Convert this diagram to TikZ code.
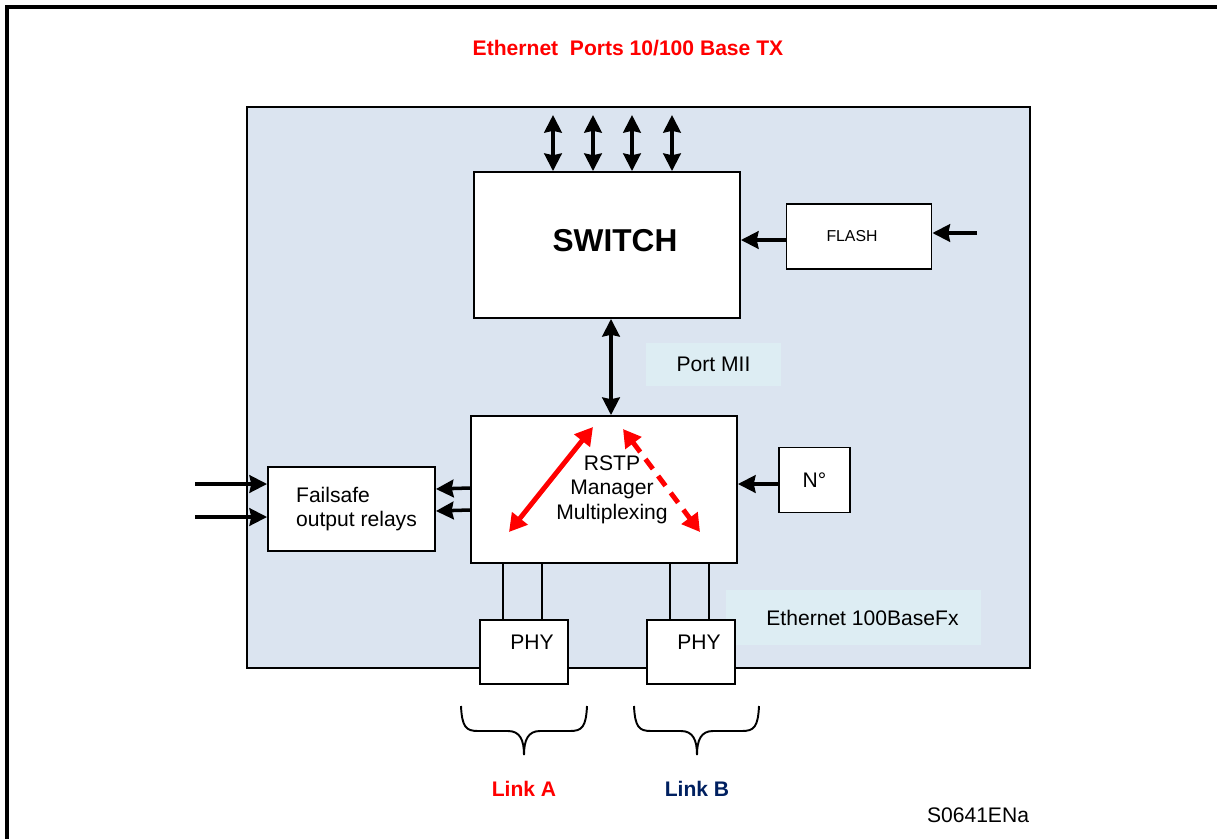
\documentclass[tikz,border=0pt]{standalone}
\usepackage{fontspec}
\setmainfont{Liberation Sans}
\usetikzlibrary{arrows.meta}
\definecolor{panelblue}{RGB}{219,228,240}
\definecolor{labelcyan}{RGB}{221,237,243}
\definecolor{linkred}{RGB}{255,0,0}
\definecolor{linknavy}{RGB}{0,32,96}
\tikzset{
  box/.style={draw, line width=1.1pt, fill=white, inner sep=0pt},
  tag/.style={fill=labelcyan, inner sep=0pt},
  arr/.style={line width=2pt, -{Stealth[length=10pt,width=10pt,inset=1pt]}},
  darr/.style={line width=2pt, {Stealth[length=10pt,width=10pt,inset=1pt]}-{Stealth[length=10pt,width=10pt,inset=1pt]}},
  rarr/.style={linkred, line width=2.8pt, {Triangle[length=10pt,width=11pt]}-{Triangle[length=10pt,width=11pt]}},
  wire/.style={line width=1.1pt}
}
\begin{document}
\begin{tikzpicture}[x=0.02cm, y=-0.02cm, font=\fontsize{12}{14}\selectfont]
\useasboundingbox (0,0) rectangle (1217,839);
\draw[line width=2pt] (1217,7) -- (7,7) -- (7,839);
\node[font=\fontsize{12}{14}\selectfont\bfseries, text=linkred] (title) at (628,48) {Ethernet\ \ Ports 10/100 Base TX};
\draw[line width=1.1pt, fill=panelblue] (247,107) rectangle (1030,668);

\node[box, minimum width=5.32cm, minimum height=2.92cm, text depth=0.2cm, font=\fontsize{18}{20}\selectfont\bfseries] (switch) at (607,245) {\hspace*{0.32cm}SWITCH};
\node[box, minimum width=2.9cm, minimum height=1.3cm, font=\fontsize{9}{11}\selectfont] (flash) at (859,236.5) {FLASH\hspace*{0.28cm}};
\node[tag, minimum width=2.7cm, minimum height=0.86cm] (mii) at (713.5,364.5) {Port MII};
\node[box, minimum width=5.32cm, minimum height=2.94cm, label={[align=center, xshift=0.16cm]center:RSTP\\Manager\\Multiplexing}] (rstp) at (604,489.5) {};
\node[box, minimum width=3.34cm, minimum height=1.68cm, align=left] (fail) at (351.5,509) {\hspace*{0.2cm}Failsafe\\\hspace*{0.2cm}output relays};
\node[box, minimum width=1.42cm, minimum height=1.3cm] (num) at (814.5,480) {N°};
\node[tag, minimum width=5.1cm, minimum height=1.1cm] (fx) at (853.5,617.5) {\hspace*{0.36cm}Ethernet 100BaseFx};
\node[box, minimum width=1.76cm, minimum height=1.28cm, text depth=0.38cm] (phyA) at (524,652) {\hspace*{0.32cm}PHY};
\node[box, minimum width=1.76cm, minimum height=1.28cm, text depth=0.38cm] (phyB) at (691,652) {\hspace*{0.32cm}PHY};

\foreach \x [count=\i] in {553,593,632,672} {
  \coordinate (port\i) at (\x,115);
  \draw[darr] (port\i) -- (switch.north -| port\i);
}
\coordinate (flashin) at (977,233);
\draw[arr] (flashin) -- (flash.east |- flashin);
\draw[arr] (flash.west |- 0,240) -- (switch.east |- 0,240);
\draw[darr] (switch.south -| 611,0) -- (rstp.north -| 611,0);
\draw[arr] (num.west |- 0,484) -- (rstp.east |- 0,484);
\draw[arr] (rstp.west |- 0,488) -- (fail.east |- 0,489);
\draw[arr] (rstp.west |- 0,510) -- (fail.east |- 0,511);
\coordinate (relay1) at (195,484);
\coordinate (relay2) at (195,517);
\draw[arr] (relay1) -- (fail.west |- relay1);
\draw[arr] (relay2) -- (fail.west |- relay2);

\coordinate (ra1) at (593,427);
\coordinate (ra2) at (509,532);
\coordinate (rb1) at (623,429);
\coordinate (rb2) at (700,532);
\draw[rarr] (ra1) -- (ra2);
\draw[rarr, dash pattern=on 7pt off 5pt] (rb1) -- (rb2);

\draw[wire] (rstp.south -| 503,0) -- (phyA.north -| 503,0);
\draw[wire] (rstp.south -| 542,0) -- (phyA.north -| 542,0);
\draw[wire] (rstp.south -| 670,0) -- (phyB.north -| 670,0);
\draw[wire] (rstp.south -| 709,0) -- (phyB.north -| 709,0);

\draw[line width=1.1pt] (461,706) .. controls (462,727) and (466,731) .. (478,731) -- (508,731) .. controls (520,731) and (524,740) .. (524,755) .. controls (524,740) and (528,731) .. (540,731) -- (570,731) .. controls (582,731) and (586,727) .. (587,706);
\draw[line width=1.1pt] (634,706) .. controls (635,727) and (639,731) .. (651,731) -- (681,731) .. controls (693,731) and (697,740) .. (697,755) .. controls (697,740) and (701,731) .. (713,731) -- (742,731) .. controls (754,731) and (758,727) .. (759,706);

\node[font=\fontsize{12}{14}\selectfont\bfseries, text=linkred] (linkA) at (524,789) {Link A};
\node[font=\fontsize{12}{14}\selectfont\bfseries, text=linknavy] (linkB) at (697,789) {Link B};
\node (ref) at (978,815) {S0641ENa};
\end{tikzpicture}
\end{document}
